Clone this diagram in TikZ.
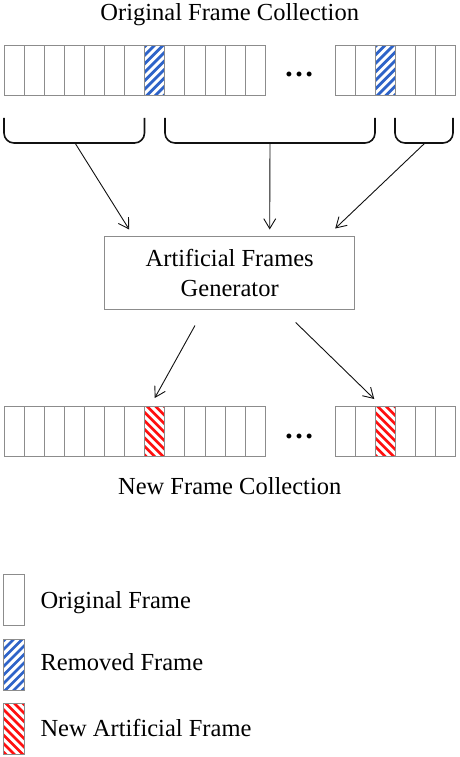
\documentclass[tikz,border=0pt]{standalone}
\usepackage{fontspec}
\setmainfont{Liberation Serif}
\usetikzlibrary{arrows.meta}
\definecolor{cGrey}{HTML}{8C8C8C}
\definecolor{cBlue}{HTML}{2E63C8}
\definecolor{cRed}{HTML}{FF1010}
\definecolor{cInk}{HTML}{111111}

% diagonal stripes clipped to a cell node: #1 node, #2 colour, #3 slope (1 or -1)
\newcommand{\stripecell}[3]{%
  \begin{scope}
    \clip (#1.south west) rectangle (#1.north east);
    \foreach \k in {-9,...,9}
      \draw[#2,line width=2.8pt,shift={(#1.center)}]
        (\k*8.5-40,#3*40) -- (\k*8.5+40,-#3*40);
  \end{scope}
  \draw[cGrey,line width=1pt] (#1.south west) rectangle (#1.north east);
}

\begin{document}
\begin{tikzpicture}[
  x=1pt,y=-1pt,
  font=\fontsize{24.5}{30}\selectfont,
  >={Straight Barb[length=10pt,width=12pt]},
  cell/.style={draw=cGrey,line width=1pt,minimum width=20.1pt,minimum height=50pt,
               inner sep=0pt,outer sep=0pt},
  genbox/.style={draw=cGrey,line width=1pt,minimum width=250pt,minimum height=73pt,
                 align=center,inner sep=0pt},
  brace/.style={draw=cInk,line width=1.6pt,rounded corners=10pt},
  flow/.style={->,draw=cInk,line width=0.9pt},
  label/.style={anchor=base},
  dots/.style={anchor=base,font=\fontsize{30}{30}\selectfont\bfseries}
]
\useasboundingbox (0,0) rectangle (459,757);

% original collection
\node[label] (title) at (229.7,21) {Original Frame Collection};
\foreach \i in {0,...,12}
  \node[cell] (oa\i) at (14.05+\i*20.1,70.7) {};
\foreach \i in {0,...,5}
  \node[cell] (ob\i) at (345.05+\i*20.1,70.7) {};
\stripecell{oa7}{cBlue}{1}
\stripecell{ob2}{cBlue}{1}
\node[dots] (dotsA) at (299,77) {…};

% brackets
\draw[brace] (4,118) -- (4,143) -- (144.5,143) -- (144.5,118);
\draw[brace] (165,118) -- (165,143) -- (375,143) -- (375,118);
\draw[brace] (395,118) -- (395,143) -- (453,143) -- (453,118);
\coordinate (b1) at (75,143);
\coordinate (b2) at (270,143);
\coordinate (b3) at (425,143);

% generator
\node[genbox] (gen) at (229.7,272.5) {Artificial Frames\\Generator};

\draw[flow] (b1) -- ([xshift=25pt,yshift=6pt]gen.north west);
\draw[flow] (b2) -- ([xshift=40pt,yshift=6pt]gen.north);
\draw[flow] (b3) -- ([xshift=-20pt,yshift=7pt]gen.north east);

% new collection
\foreach \i in {0,...,12}
  \node[cell] (na\i) at (14.05+\i*20.1,431) {};
\foreach \i in {0,...,5}
  \node[cell] (nb\i) at (345.05+\i*20.1,431) {};
\stripecell{na7}{cRed}{-1}
\stripecell{nb2}{cRed}{-1}
\node[dots] (dotsB) at (299,438) {…};
\node[label] (result) at (229.7,494) {New Frame Collection};

\draw[flow] ([xshift=-34.7pt,yshift=-16pt]gen.south) -- ([yshift=8pt]na7.north);
\draw[flow] ([xshift=66pt,yshift=-13pt]gen.south) -- ([xshift=-11pt,yshift=7pt]nb2.north);

% legend
\node[cell,minimum height=51pt] (leg1) at (14,599.5) {};
\node[cell,minimum height=51pt] (leg2) at (14,664.5) {};
\node[cell,minimum height=51pt] (leg3) at (14,728.5) {};
\stripecell{leg2}{cBlue}{1}
\stripecell{leg3}{cRed}{-1}
\node[anchor=base west] (txt1) at (37,608) {Original Frame};
\node[anchor=base west] (txt2) at (37,670) {Removed Frame};
\node[anchor=base west] (txt3) at (37,736.7) {New Artificial Frame};

\end{tikzpicture}
\end{document}
